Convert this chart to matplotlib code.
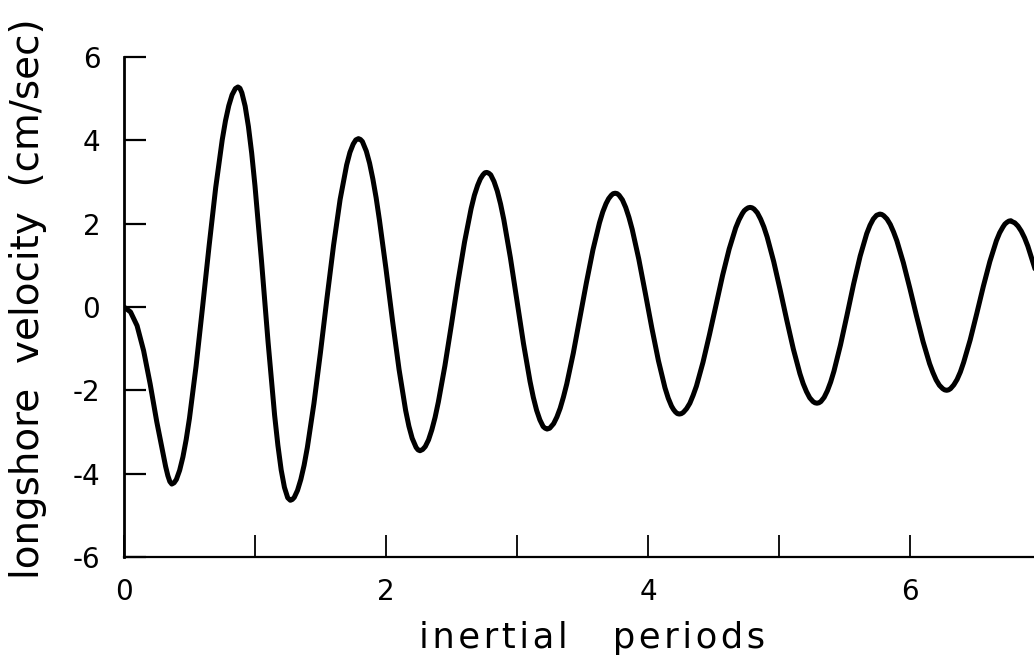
import matplotlib
matplotlib.use("Agg")
import matplotlib.pyplot as plt

# longshore velocity against time in inertial periods (readings taken along
# each flank, closer together around the turning points)
periods = [
    0.00, 0.05, 0.10, 0.15, 0.20, 0.25, 0.30, 0.318, 0.335, 0.35, 0.365,
    0.3825, 0.40, 0.425, 0.45, 0.475, 0.50, 0.55, 0.60, 0.65, 0.70, 0.75,
    0.775, 0.80, 0.825, 0.85, 0.87,
    0.885, 0.90, 0.925, 0.95, 0.975, 1.00, 1.05, 1.10, 1.15, 1.175, 1.20,
    1.225, 1.25, 1.27,
    1.285, 1.30, 1.325, 1.35, 1.375, 1.40, 1.45, 1.50, 1.55, 1.60, 1.65,
    1.70, 1.725, 1.75, 1.77, 1.79,
    1.805, 1.82, 1.85, 1.875, 1.90, 1.925, 1.95, 2.00, 2.05, 2.10, 2.15,
    2.175, 2.20, 2.23, 2.245, 2.26,
    2.28, 2.30, 2.325, 2.35, 2.375, 2.40, 2.45, 2.50, 2.55, 2.60, 2.65,
    2.675, 2.70, 2.72, 2.74, 2.755, 2.77,
    2.785, 2.80, 2.825, 2.85, 2.875, 2.90, 2.95, 3.00, 3.05, 3.10, 3.125,
    3.15, 3.175, 3.20, 3.215, 3.23,
    3.25, 3.28, 3.305, 3.33, 3.355, 3.38, 3.43, 3.48, 3.53, 3.58, 3.63,
    3.655, 3.68, 3.70, 3.72, 3.735, 3.75,
    3.765, 3.78, 3.805, 3.83, 3.855, 3.88, 3.93, 3.98, 4.03, 4.08, 4.13,
    4.155, 4.18, 4.195, 4.21, 4.225, 4.24,
    4.255, 4.27, 4.295, 4.32, 4.345, 4.37, 4.42, 4.47, 4.52, 4.57, 4.62,
    4.67, 4.695, 4.72, 4.735, 4.75, 4.765, 4.78,
    4.795, 4.81, 4.835, 4.86, 4.885, 4.91, 4.96, 5.01, 5.06, 5.11, 5.16,
    5.185, 5.21, 5.235, 5.26, 5.275, 5.29,
    5.305, 5.32, 5.345, 5.37, 5.395, 5.42, 5.47, 5.52, 5.57, 5.62, 5.67,
    5.695, 5.72, 5.745, 5.77,
    5.785, 5.80, 5.825, 5.85, 5.875, 5.90, 5.95, 6.00, 6.05, 6.10, 6.15,
    6.175, 6.20, 6.225, 6.25, 6.265, 6.28,
    6.295, 6.31, 6.335, 6.36, 6.385, 6.41, 6.46, 6.51, 6.56, 6.61, 6.66,
    6.685, 6.71, 6.725, 6.74, 6.755, 6.77,
    6.785, 6.80, 6.825, 6.85, 6.875, 6.90, 6.95, 7.00,
]
velocity = [
    0.00, -0.12, -0.45, -1.05, -1.85, -2.75, -3.55, -3.83, -4.05, -4.19, -4.25,
    -4.22, -4.14, -3.92, -3.60, -3.18, -2.67, -1.43, 0.00, 1.47, 2.86, 4.01,
    4.47, 4.83, 5.09, 5.24, 5.28,
    5.25, 5.14, 4.82, 4.33, 3.69, 2.91, 1.10, -0.84, -2.60, -3.32, -3.91,
    -4.33, -4.58, -4.64,
    -4.62, -4.57, -4.40, -4.14, -3.80, -3.37, -2.32, -1.09, 0.22, 1.48, 2.58,
    3.41, 3.71, 3.91, 4.01, 4.04,
    4.02, 3.97, 3.74, 3.45, 3.07, 2.62, 2.09, 0.92, -0.33, -1.50, -2.48,
    -2.86, -3.15, -3.37, -3.43, -3.45,
    -3.42, -3.35, -3.19, -2.95, -2.65, -2.28, -1.41, -0.42, 0.61, 1.56, 2.36,
    2.68, 2.92, 3.07, 3.17, 3.22, 3.23,
    3.21, 3.17, 3.01, 2.78, 2.47, 2.09, 1.18, 0.15, -0.88, -1.79, -2.17,
    -2.48, -2.71, -2.87, -2.91, -2.93,
    -2.91, -2.80, -2.64, -2.43, -2.16, -1.85, -1.11, -0.27, 0.58, 1.37, 2.02,
    2.28, 2.48, 2.60, 2.68, 2.72, 2.73,
    2.72, 2.68, 2.57, 2.39, 2.15, 1.86, 1.15, 0.33, -0.51, -1.29, -1.94,
    -2.19, -2.38, -2.46, -2.52, -2.56, -2.57,
    -2.56, -2.53, -2.44, -2.31, -2.12, -1.90, -1.33, -0.66, 0.05, 0.76, 1.39,
    1.90, 2.09, 2.24, 2.31, 2.35, 2.38, 2.39,
    2.38, 2.35, 2.26, 2.11, 1.92, 1.68, 1.09, 0.40, -0.32, -1.01, -1.60,
    -1.84, -2.03, -2.18, -2.27, -2.30, -2.31,
    -2.30, -2.27, -2.17, -2.01, -1.80, -1.54, -0.91, -0.19, 0.55, 1.22, 1.76,
    1.96, 2.11, 2.20, 2.23,
    2.22, 2.19, 2.11, 1.98, 1.80, 1.59, 1.06, 0.44, -0.21, -0.83, -1.36,
    -1.57, -1.75, -1.88, -1.96, -1.99, -2.00,
    -1.99, -1.96, -1.87, -1.74, -1.56, -1.33, -0.79, -0.16, 0.49, 1.09, 1.59,
    1.78, 1.92, 1.99, 2.03, 2.06, 2.07,
    2.04, 2.02, 1.94, 1.82, 1.66, 1.46, 0.97, 0.40,
]

x_ticks = [0, 2, 4, 6]
x_minor = [1, 3, 5, 7]
y_ticks = [-6, -4, -2, 0, 2, 4, 6]

X_LABEL = "inertial periods"
Y_LABEL = "longshore  velocity  (cm/sec)"


def tracked(text, gap="\u200a", word_gap="    "):
    # widen letter spacing: a hair space between letters, wide gap between words
    return word_gap.join(gap.join(word) for word in text.split())


plt.rcParams["font.family"] = ["DejaVu Sans"]
plt.rcParams["axes.unicode_minus"] = False

fig = plt.figure(figsize=(10.34, 6.6), dpi=100)
fig.patch.set_facecolor("white")
ax = fig.add_axes([0.1199, 0.1561, 0.8868, 0.7576])

ax.plot(periods, velocity, color="black", lw=3.6,
        solid_joinstyle="round", solid_capstyle="round")

ax.set_xlim(0, 7)
ax.set_ylim(-6, 6)

for side in ("top", "right"):
    ax.spines[side].set_visible(False)
ax.spines["left"].set_linewidth(2.0)
ax.spines["bottom"].set_linewidth(1.6)

ax.set_xticks(x_ticks)
ax.set_xticks(x_minor, minor=True)
ax.set_yticks(y_ticks)
ax.tick_params(axis="x", which="both", direction="in", length=16, width=1.3,
               pad=15, labelsize=20)
ax.tick_params(axis="y", direction="in", length=16, width=1.6,
               pad=17, labelsize=20)

fig.text(0.027, 0.548, Y_LABEL, rotation=90,
         ha="center", va="center", fontsize=28)
fig.text(0.5725, 0.018, tracked(X_LABEL), ha="center", va="baseline",
         fontsize=25.5)

fig.savefig("out.png", dpi=100, facecolor="white")
